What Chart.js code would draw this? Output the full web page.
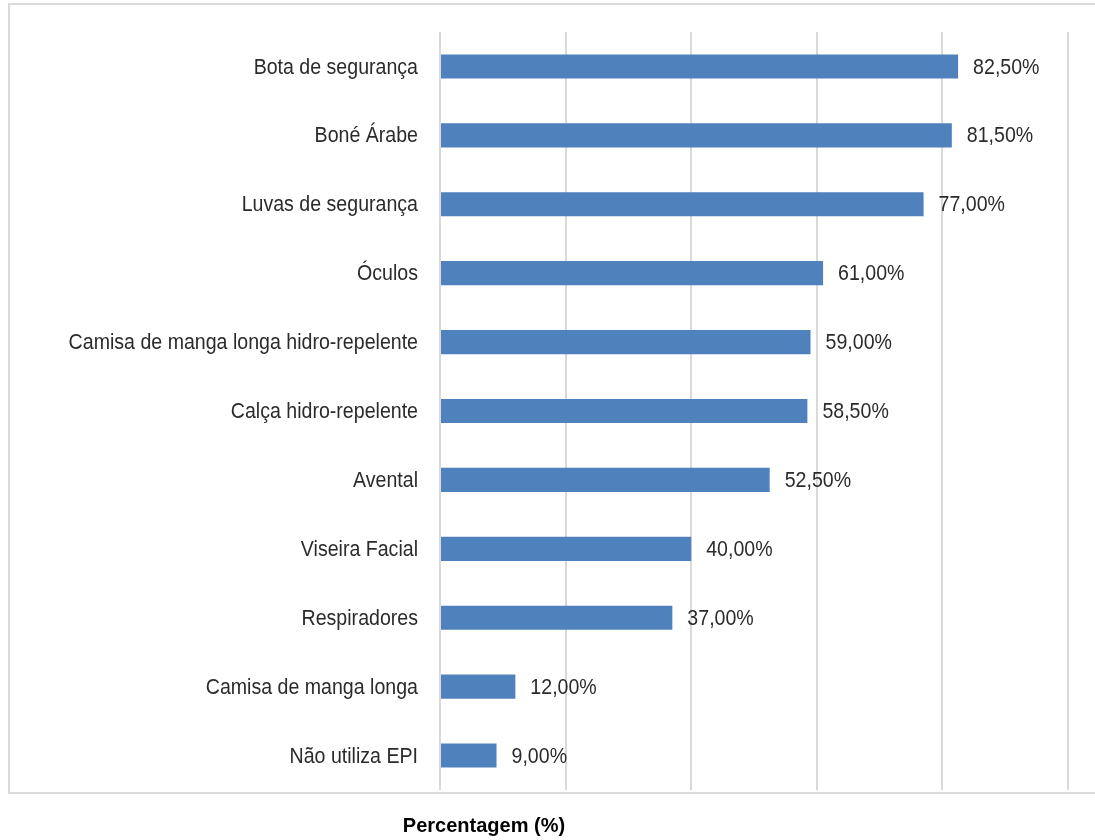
<!DOCTYPE html>
<html>
<head>
<meta charset="utf-8">
<script src="https://cdn.jsdelivr.net/npm/chart.js@4/dist/chart.umd.min.js"></script>
<style>
  html, body { margin: 0; padding: 0; background: #ffffff; }
  #wrap { width: 1095px; height: 840px; position: relative; }
</style>
</head>
<body>
<div id="wrap"><canvas id="c" width="1095" height="840"></canvas></div>
<script>
// EPI utilizados pelos trabalhadores
const categorias = [
  'Bota de segurança',
  'Boné Árabe',
  'Luvas de segurança',
  'Óculos',
  'Camisa de manga longa hidro-repelente',
  'Calça hidro-repelente',
  'Avental',
  'Viseira Facial',
  'Respiradores',
  'Camisa de manga longa',
  'Não utiliza EPI'
];
const percentagens = [82.5, 81.5, 77.0, 61.0, 59.0, 58.5, 52.5, 40.0, 37.0, 12.0, 9.0];
const escalaTicks = [0, 20, 40, 60, 80, 100];

const fonteRotulo = "22px 'Liberation Sans', Arial, sans-serif";
const compressao = 0.89; // letra estreita
const corTexto = '#2b2b2b';
const corGrade = '#d9d9d9';

function formatarPct(v) {
  return v.toFixed(2).replace('.', ',') + '%';
}

function textoEstreito(ctx, texto, x, y, alinhamento) {
  ctx.save();
  ctx.translate(x, y);
  ctx.scale(compressao, 1);
  ctx.textAlign = alinhamento;
  ctx.fillText(texto, 0, 0);
  ctx.restore();
}

// Moldura cinza à volta do gráfico
const moldura = {
  id: 'moldura',
  beforeDraw(chart) {
    const ctx = chart.ctx;
    ctx.save();
    ctx.strokeStyle = corGrade;
    ctx.lineWidth = 2;
    ctx.strokeRect(9, 4, 1200, 789);
    ctx.restore();
  }
};

// Nomes das categorias e valores à direita de cada barra
const rotulos = {
  id: 'rotulos',
  afterDatasetsDraw(chart) {
    const ctx = chart.ctx;
    const meta = chart.getDatasetMeta(0);
    const eixoY = chart.scales.y;
    ctx.save();
    ctx.font = fonteRotulo;
    ctx.fillStyle = corTexto;
    ctx.textBaseline = 'middle';
    categorias.forEach((nome, i) => {
      textoEstreito(ctx, nome, eixoY.right - 22, eixoY.getPixelForValue(i) + 1, 'right');
    });
    meta.data.forEach((bar, i) => {
      textoEstreito(ctx, formatarPct(percentagens[i]), bar.x + 15, bar.y + 1, 'left');
    });
    ctx.restore();
  }
};

// Título do eixo horizontal
const tituloEixo = {
  id: 'tituloEixo',
  afterDraw(chart) {
    const ctx = chart.ctx;
    ctx.save();
    ctx.font = "bold 20px 'Liberation Sans', Arial, sans-serif";
    ctx.fillStyle = '#000000';
    ctx.textAlign = 'center';
    ctx.textBaseline = 'middle';
    ctx.fillText('Percentagem (%)', 484, 826);
    ctx.restore();
  }
};

new Chart(document.getElementById('c'), {
  type: 'bar',
  data: {
    labels: categorias,
    datasets: [{
      data: percentagens,
      backgroundColor: '#4f81bd',
      borderWidth: 0,
      barPercentage: 0.5,
      categoryPercentage: 0.7
    }]
  },
  options: {
    indexAxis: 'y',
    responsive: false,
    animation: false,
    layout: { padding: { left: 0, top: 32, right: 27, bottom: 50 } },
    plugins: {
      legend: { display: false },
      tooltip: { enabled: false }
    },
    scales: {
      x: {
        min: 0,
        max: 100,
        afterBuildTicks(scale) {
          scale.ticks = escalaTicks.map(v => ({ value: v }));
        },
        afterFit(scale) { scale.height = 0; },
        ticks: { display: false },
        border: { display: false },
        grid: { color: corGrade, lineWidth: 2, drawTicks: false }
      },
      y: {
        afterFit(scale) { scale.width = 440; },
        border: { display: false },
        grid: { display: false, drawTicks: false },
        ticks: { display: false }
      }
    }
  },
  plugins: [moldura, rotulos, tituloEixo]
});
</script>
</body>
</html>
